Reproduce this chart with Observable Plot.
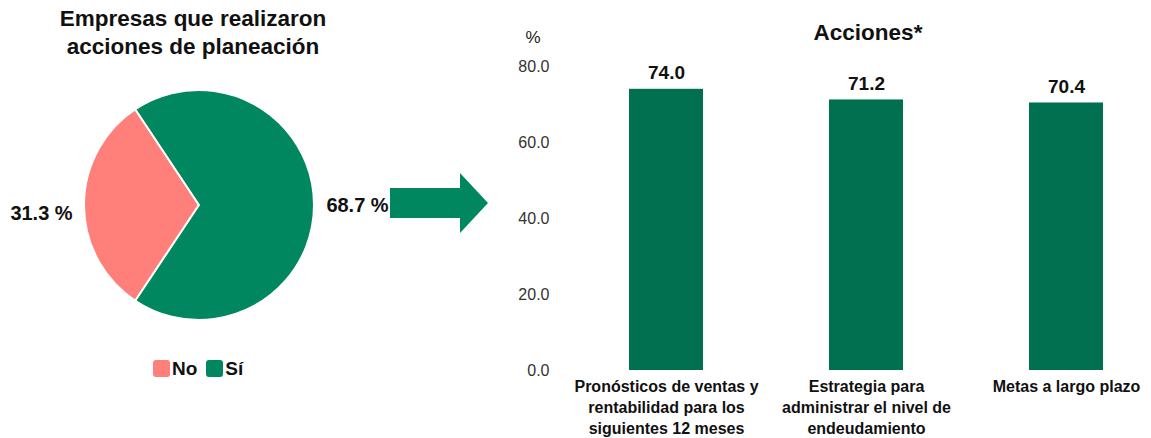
<!DOCTYPE html>
<html>
<head>
<meta charset="utf-8">
<script src="https://cdn.jsdelivr.net/npm/d3@7"></script>
<script src="https://cdn.jsdelivr.net/npm/@observablehq/plot@0.6"></script>
<style>
  body { margin: 0; background: #fff; font-family: "Liberation Sans", Arial, sans-serif; }
  #root { position: relative; width: 1151px; height: 438px; overflow: hidden; background: #fff; }
  .abs { position: absolute; }
  #title { left: 0; top: 5px; width: 386px; text-align: center; font-weight: bold; font-size: 22.5px; line-height: 28px; color: #111; }
  #pct { left: 513px; top: 28px; width: 40px; text-align: center; font-size: 17px; line-height: 20px; color: #222; }
  #title2 { left: 768px; top: 19px; width: 200px; text-align: center; font-weight: bold; font-size: 22.5px; line-height: 28px; color: #111; }
  #legend { left: 153px; top: 352px; }
  #legend .lg-swatches { font-family: "Liberation Sans", Arial, sans-serif !important; font-size: 19px !important; font-weight: bold !important; color: #111 !important; margin: 0 !important; }
  #legend .lg-swatch { margin-right: 9px !important; }
  #legend .lg-swatch > svg { margin-right: 2px !important; }
  #legend .lg-swatch rect { rx: 3px; ry: 3px; }
</style>
</head>
<body>
<div id="root">
  <div id="pie" class="abs" style="left:0;top:60px;"></div>
  <div id="bars" class="abs" style="left:480px;top:0;"></div>
  <div id="title" class="abs">Empresas que realizaron<br>acciones de planeación</div>
  <div id="legend" class="abs"></div>
  <div id="pct" class="abs">%</div>
  <div id="title2" class="abs">Acciones*</div>
</div>
<script>
// ---- data ----
const pieCategories = ["No", "Sí"];
const pieValues = [31.3, 68.7];
const pieColors = ["#FF7F7A", "#00875F"];

const barCategories = [
  "Pronósticos de ventas y\nrentabilidad para los\nsiguientes 12 meses",
  "Estrategia para\nadministrar el nivel de\nendeudamiento",
  "Metas a largo plazo"
];
const barValues = [74.0, 71.2, 70.4];
const yTicks = [0, 20, 40, 60, 80];
const barColor = "#007050";
const arrowColor = "#00875F";
const FONT = "Liberation Sans, Arial, sans-serif";

// ---- pie ----
let color;
try {
  const s = Plot.scale({color: {domain: pieCategories, range: pieColors}});
  color = (v) => s.apply(v);
} catch (e) {
  color = d3.scaleOrdinal(pieCategories, pieColors);
}

const total = d3.sum(pieValues);
const pieData = pieCategories.map((c, i) => ({cat: c, value: pieValues[i]}));
const noSpan = pieValues[0] / total * 2 * Math.PI;
const startAngle = 1.5 * Math.PI - noSpan / 2;
const arcs = d3.pie().sort(null).value(d => d.value)
  .startAngle(startAngle).endAngle(startAngle + 2 * Math.PI)(pieData);

const R = 115, CX = 199, CY = 145, LABEL_R = 158;
const arcGen = d3.arc().innerRadius(0).outerRadius(R);
const labelArc = d3.arc().innerRadius(LABEL_R).outerRadius(LABEL_R);
const pieLabels = arcs.map(a => {
  const [lx, ly] = labelArc.centroid(a);
  return {x: CX + lx, y: CY + ly, text: `${a.data.value.toFixed(1)} %`, dy: a.data.cat === "No" ? 8 : 0};
});

function pieMark() {
  const g = d3.create("svg:g").attr("transform", `translate(${CX},${CY})`);
  g.selectAll("path").data(arcs).join("path")
    .attr("d", arcGen)
    .attr("fill", d => color(d.data.cat))
    .attr("stroke", "#fff")
    .attr("stroke-width", 2)
    .attr("stroke-linejoin", "round");
  return g.node();
}

function arrowMark() {
  // block arrow pointing from the pie to the bar chart
  const x0 = 390, x1 = 460, x2 = 488, cy = 143, hs = 15, hh = 30;
  const p = d3.path();
  p.moveTo(x0, cy - hs); p.lineTo(x1, cy - hs); p.lineTo(x1, cy - hh);
  p.lineTo(x2, cy); p.lineTo(x1, cy + hh); p.lineTo(x1, cy + hs);
  p.lineTo(x0, cy + hs); p.closePath();
  return d3.create("svg:path").attr("d", p.toString()).attr("fill", arrowColor).node();
}

const pieSvg = Plot.plot({
  width: 495,
  height: 290,
  margin: 0,
  x: {type: "identity", axis: null},
  y: {type: "identity", axis: null},
  style: {background: "transparent", fontFamily: FONT, overflow: "visible"},
  marks: [
    pieMark,
    arrowMark,
    Plot.text(pieLabels, {x: "x", y: d => d.y + d.dy, text: "text", fontSize: 20, fontWeight: "bold", fill: "#111"})
  ]
});
document.getElementById("pie").appendChild(pieSvg);

const leg = Plot.legend({
  color: {domain: pieCategories, range: pieColors},
  legend: "swatches",
  swatchSize: 17,
  className: "lg"
});
document.getElementById("legend").appendChild(leg);

// ---- bars ----
const barData = barCategories.map((c, i) => ({cat: c, value: barValues[i]}));

const barSvg = Plot.plot({
  width: 671,
  height: 438,
  marginLeft: 109,
  marginRight: 8,
  marginTop: 66,
  marginBottom: 68,
  x: {domain: barCategories, paddingInner: 0.63, paddingOuter: 0.2, axis: null},
  y: {domain: [0, 80], ticks: yTicks, tickFormat: d => d.toFixed(1), tickSize: 0, tickPadding: 40, label: null},
  style: {background: "transparent", fontFamily: FONT, fontSize: "16px", color: "#333", overflow: "visible"},
  marks: [
    Plot.barY(barData, {x: "cat", y: "value", fill: barColor}),
    Plot.text(barData, {x: "cat", y: "value", text: d => d.value.toFixed(1), dy: -16, fontSize: 19, fontWeight: "bold", fill: "#111"}),
    Plot.text(barData, {x: "cat", text: "cat", frameAnchor: "bottom", lineAnchor: "top", dy: 7, fontSize: 16, fontWeight: "bold", lineHeight: 1.3, fill: "#111"})
  ]
});
document.getElementById("bars").appendChild(barSvg);
</script>
</body>
</html>
